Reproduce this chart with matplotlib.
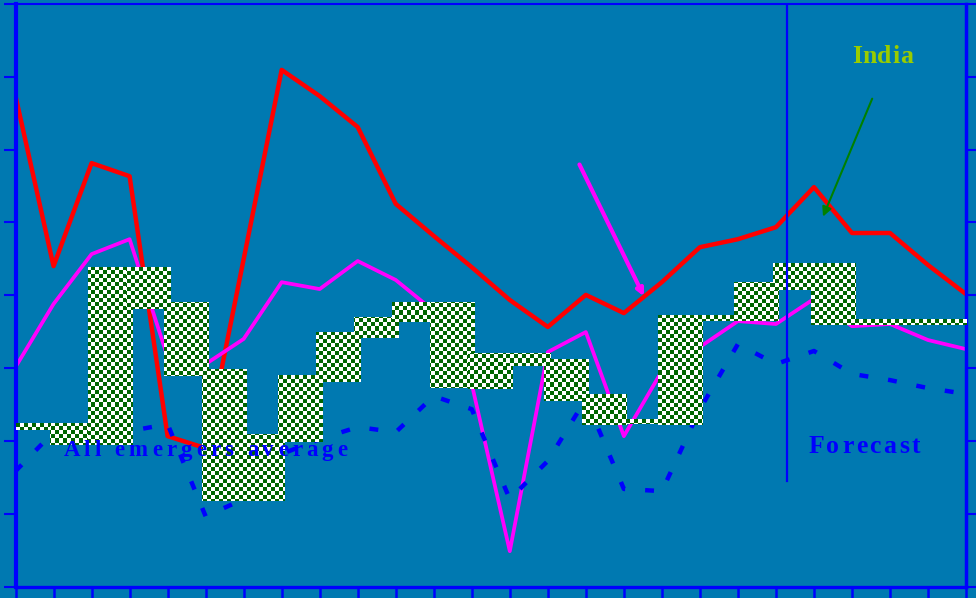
import matplotlib
matplotlib.use("Agg")
import matplotlib.pyplot as plt
import numpy as np
from matplotlib import font_manager
from matplotlib.ft2font import FT2Font
from matplotlib.colors import ListedColormap

# values (26 year boundaries, 25 periods)
years = np.arange(26)
india = [7.47, 2.80, 5.63, 5.27, -1.87, -2.20, 2.99, 8.19, 7.47, 6.62, 4.51, 3.63, 2.77,
         1.87, 1.13, 2.01, 1.51, 2.36, 3.32, 3.54, 3.87, 4.97, 3.71, 3.71, 2.83, 2.03]
magenta_series = [0.03, 1.76, 3.13, 3.54, 0.30, 0.11, 0.80, 2.36, 2.17, 2.94, 2.42, 1.57, -0.44,
                  -5.03, 0.44, 0.99, -1.87, -0.08, 0.58, 1.29, 1.21, 1.90, 1.15, 1.21, 0.77, 0.52]
emergers_avg = [-2.83, -1.76, -1.68, -1.73, -1.54, -4.07, -3.60, -2.36, -1.95, -1.62, -1.76, -0.77, -1.13,
                -3.60, -2.55, -0.85, -3.32, -3.38, -1.13, 0.66, 0.11, 0.47, -0.16, -0.33, -0.55, -0.71]
periods = np.arange(25) + 0.5
bar_top = [-1.51, -1.51, 2.77, 2.77, 1.81, -0.03, -1.81, -0.19, 0.99, 1.40, 1.81, 1.81, 0.41,
           0.41, 0.25, -0.71, -1.40, 1.46, 1.46, 2.36, 2.88, 2.88, 1.35, 1.35, 1.35]
bar_bottom = [-1.70, -2.12, -2.12, 1.62, -0.22, -3.65, -3.65, -2.03, -0.38, 0.82, 1.26, -0.55, -0.58,
              0.05, -0.91, -1.57, -1.54, -1.57, 1.29, 1.29, 2.14, 1.18, 1.18, 1.18, 1.18]
forecast_start = 20.29

bg = '#0079B1'
blue = '#0000FF'

fig = plt.figure(figsize=(9.76, 5.98), dpi=100, facecolor=bg)
ax = fig.add_axes([0.0159, 0.0192, 0.9739, 0.9741])
ax.set_facecolor(bg)

ax.plot(years, india, color='#FF0000', lw=3.2, zorder=2)
ax.plot(years, magenta_series, color='#FF00FF', lw=2.7, zorder=2)
ax.plot(years, emergers_avg, color=blue, lw=3.2, dashes=[2.0, 4.5], dash_capstyle='butt', zorder=2)

# checkered floating bars: bar patches used as clip paths for a checkerboard image
heights = np.array(bar_top) - np.array(bar_bottom)
bars = ax.bar(periods, heights, bottom=bar_bottom, width=1.18, color='none', lw=0, zorder=3)
checker = np.indices((146, 238)).sum(axis=0) % 2
cmap = ListedColormap(['white', '#006400'])
for b in bars:
    im = ax.imshow(checker, extent=(0, 25, -6, 10), cmap=cmap, interpolation='nearest',
                   aspect='auto', zorder=3)
    im.set_clip_path(b)

ax.set_xlim(0, 25)
ax.set_ylim(-6, 10)
ax.set_xticks(np.arange(26))
ax.set_yticks(np.arange(-6, 11, 2))
ax.tick_params(axis='y', which='both', direction='out', length=9, width=1.5, color=blue,
               left=True, right=True, labelleft=False, labelright=False)
ax.tick_params(axis='x', direction='out', length=10, width=1.8, color=blue,
               bottom=True, top=False, labelbottom=False)
for side, w in [('left', 3.0), ('right', 2.5), ('bottom', 2.4), ('top', 1.5)]:
    ax.spines[side].set_color(blue)
    ax.spines[side].set_linewidth(w)

ax.plot([forecast_start, forecast_start], [10, -3.1], color=blue, lw=1.6, zorder=4)

fp = font_manager.FontProperties(family='Liberation Serif', weight='bold')
ft = FT2Font(font_manager.findfont(fp))


def spaced_text(x, y, s, size, track, color):
    ft.set_size(size, 72)
    off = 0.0
    for ch in s:
        ax.annotate(ch, xy=(x, y), xytext=(off, 0), textcoords='offset points',
                    fontproperties=fp, fontsize=size, color=color,
                    ha='left', va='baseline', zorder=6, annotation_clip=False)
        g = ft.load_char(ord(ch))
        off += g.linearHoriAdvance / 65536 + track


spaced_text(1.26, -2.42, 'All emergers average', 16.5, 2.9, blue)
spaced_text(20.85, -2.34, 'Forecast', 18.5, 1.8, blue)
spaced_text(22.0, 8.38, 'India', 18.5, 0.4, '#99CC00')

ax.annotate('', xy=(21.21, 4.09), xytext=(22.56, 7.47),
            arrowprops=dict(arrowstyle='-|>', color='#008000', lw=1.5, mutation_scale=14),
            zorder=6)
ax.annotate('', xy=(16.56, 1.90), xytext=(14.80, 5.66),
            arrowprops=dict(arrowstyle='-|>', color='#FF00FF', lw=3, mutation_scale=10),
            zorder=6)

fig.savefig('out.png', dpi=100, facecolor=bg)
